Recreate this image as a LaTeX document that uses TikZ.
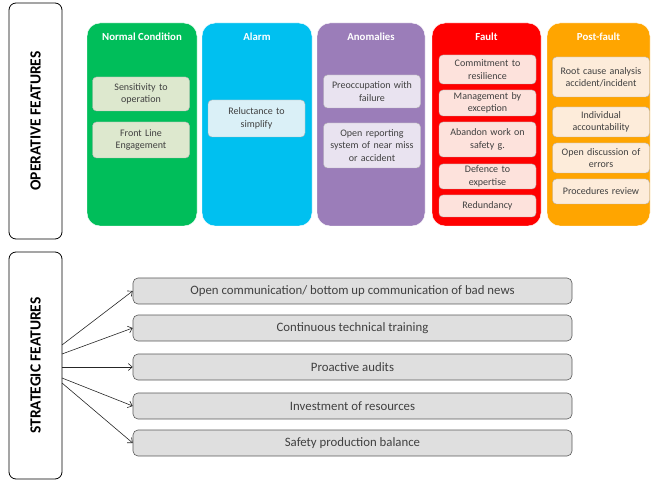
\documentclass[tikz,border=0pt]{standalone}
\usepackage{fontspec}
\setmainfont{Carlito}
\usetikzlibrary{arrows.meta, positioning}

\begin{document}
\begin{tikzpicture}[x=1pt, y=-1pt, every node/.style={font=\small}]
    % Define consistent colors
    \definecolor{normalcolor}{RGB}{0,190,90}
    \definecolor{alarmcolor}{RGB}{0,192,240}
    \definecolor{anomalycolor}{RGB}{155,125,185}
    \definecolor{faultcolor}{RGB}{255,0,0}
    \definecolor{postcolor}{RGB}{255,165,0}
    \definecolor{normallight}{RGB}{221,232,206}
    \definecolor{alarmlight}{RGB}{218,240,247}
    \definecolor{anomalylight}{RGB}{233,227,240}
    \definecolor{faultlight}{RGB}{253,226,220}
    \definecolor{postlight}{RGB}{253,236,218}
    \definecolor{textgray}{RGB}{64,64,64}

    \tikzset{
        sidebox/.style={draw, thick, rounded corners=7pt, rotate=90,
            minimum height=53pt, font=\fontsize{15.5}{17}\selectfont\bfseries},
        phase/.style={draw=white, rounded corners=13pt, minimum width=#1},
        phasetitle/.style={font=\fontsize{10.8}{12}\selectfont\bfseries, text=white},
        item/.style={draw=gray!60, fill=#1, rounded corners=4pt, minimum width=97pt,
            text width=94pt, align=center, inner sep=1pt, text=textgray,
            font=\fontsize{10}{12.5}\selectfont},
        strat/.style={draw=gray!70!black, semithick, fill=gray!25, rounded corners=5pt,
            minimum width=439pt, minimum height=26pt, text=textgray,
            font=\fontsize{12.8}{14}\selectfont},
        link/.style={draw=black!85, semithick, -{Straight Barb[length=4pt, width=7pt]}}
    }

    \useasboundingbox (0,0) rectangle (651,481);

    % Side labels
    \node[sidebox, minimum width=236pt] (oper) at (35.5,121) {OPERATIVE FEATURES};
    \node[sidebox, minimum width=227pt] (strat) at (35.5,365.5) {STRATEGIC FEATURES};

    % Phase columns
    \node[phase=110pt, fill=normalcolor, minimum height=203pt] (normal) at (142,124.5) {};
    \node[phase=110pt, fill=alarmcolor, minimum height=203pt] (alarm) at (257,124.5) {};
    \node[phase=108pt, fill=anomalycolor, minimum height=203pt] (anom) at (371,124.5) {};
    \node[phase=109pt, fill=faultcolor, minimum height=203pt] (fault) at (486.5,124.5) {};
    \node[phase=103pt, fill=postcolor, minimum height=203pt] (post) at (598.5,124.5) {};

    \node[phasetitle] (normaltitle) at (142,37) {Normal Condition};
    \node[phasetitle] (alarmtitle) at (257,37) {Alarm};
    \node[phasetitle] (anomtitle) at (371,37) {Anomalies};
    \node[phasetitle] (faulttitle) at (486.5,37) {Fault};
    \node[phasetitle] (posttitle) at (598.5,37) {Post-fault};

    % Normal condition
    \node[item=normallight, minimum height=34pt] (sens) at (141,94) {Sensitivity to\\operation};
    \node[item=normallight, minimum height=36pt] (front) at (141,140) {Front Line\\Engagement};

    % Alarm
    \node[item=alarmlight, minimum height=37pt] (reluct) at (256.5,118.5) {Reluctance to\\simplify};

    % Anomalies
    \node[item=anomalylight, minimum height=33pt] (preocc) at (372,91.5) {Preoccupation with\\failure};
    \node[item=anomalylight, minimum height=45pt] (report) at (372,145.5) {Open reporting\\system of near miss\\or accident};

    % Fault
    \node[item=faultlight, minimum height=29pt] (commit) at (487.5,69.5) {Commitment to\\resilience};
    \node[item=faultlight, minimum height=26pt] (manage) at (487.5,103) {Management by\\exception};
    \node[item=faultlight, minimum height=35pt] (abandon) at (487.5,139.5) {Abandon work on\\safety g.};
    \node[item=faultlight, minimum height=25pt] (defence) at (487.5,176.5) {Defence to\\expertise};
    \node[item=faultlight, minimum height=22pt] (redund) at (487.5,206) {Redundancy};

    % Post-fault
    \node[item=postlight, minimum height=40pt] (rootcause) at (601,77) {Root cause analysis\\accident/incident};
    \node[item=postlight, minimum height=30pt] (account) at (601,122) {Individual\\accountability};
    \node[item=postlight, minimum height=30pt] (discuss) at (601,158) {Open discussion of\\errors};
    \node[item=postlight, minimum height=25pt] (review) at (601,191.5) {Procedures review};

    % Strategic features
    \node[strat] (comm) at (352.5,291) {Open communication/ bottom up communication of bad news};
    \node[strat] (train) at (352.5,328) {Continuous technical training};
    \node[strat] (audit) at (352.5,367) {Proactive audits};
    \node[strat] (invest) at (352.5,406) {Investment of resources};
    \node[strat] (balance) at (352.5,443) {Safety production balance};

    % Arrow origins
    \coordinate (s1) at (62,345);
    \coordinate (s2) at (62,354);
    \coordinate (s3) at (62,367);
    \coordinate (s4) at (62,378);
    \coordinate (s5) at (62,383);

    \draw[link] (s1) -- (comm.west);
    \draw[link] (s2) -- (train.west);
    \draw[link] (s3) -- (audit.west);
    \draw[link] (s4) -- (invest.west);
    \draw[link] (s5) -- (balance.west);
\end{tikzpicture}
\end{document}
